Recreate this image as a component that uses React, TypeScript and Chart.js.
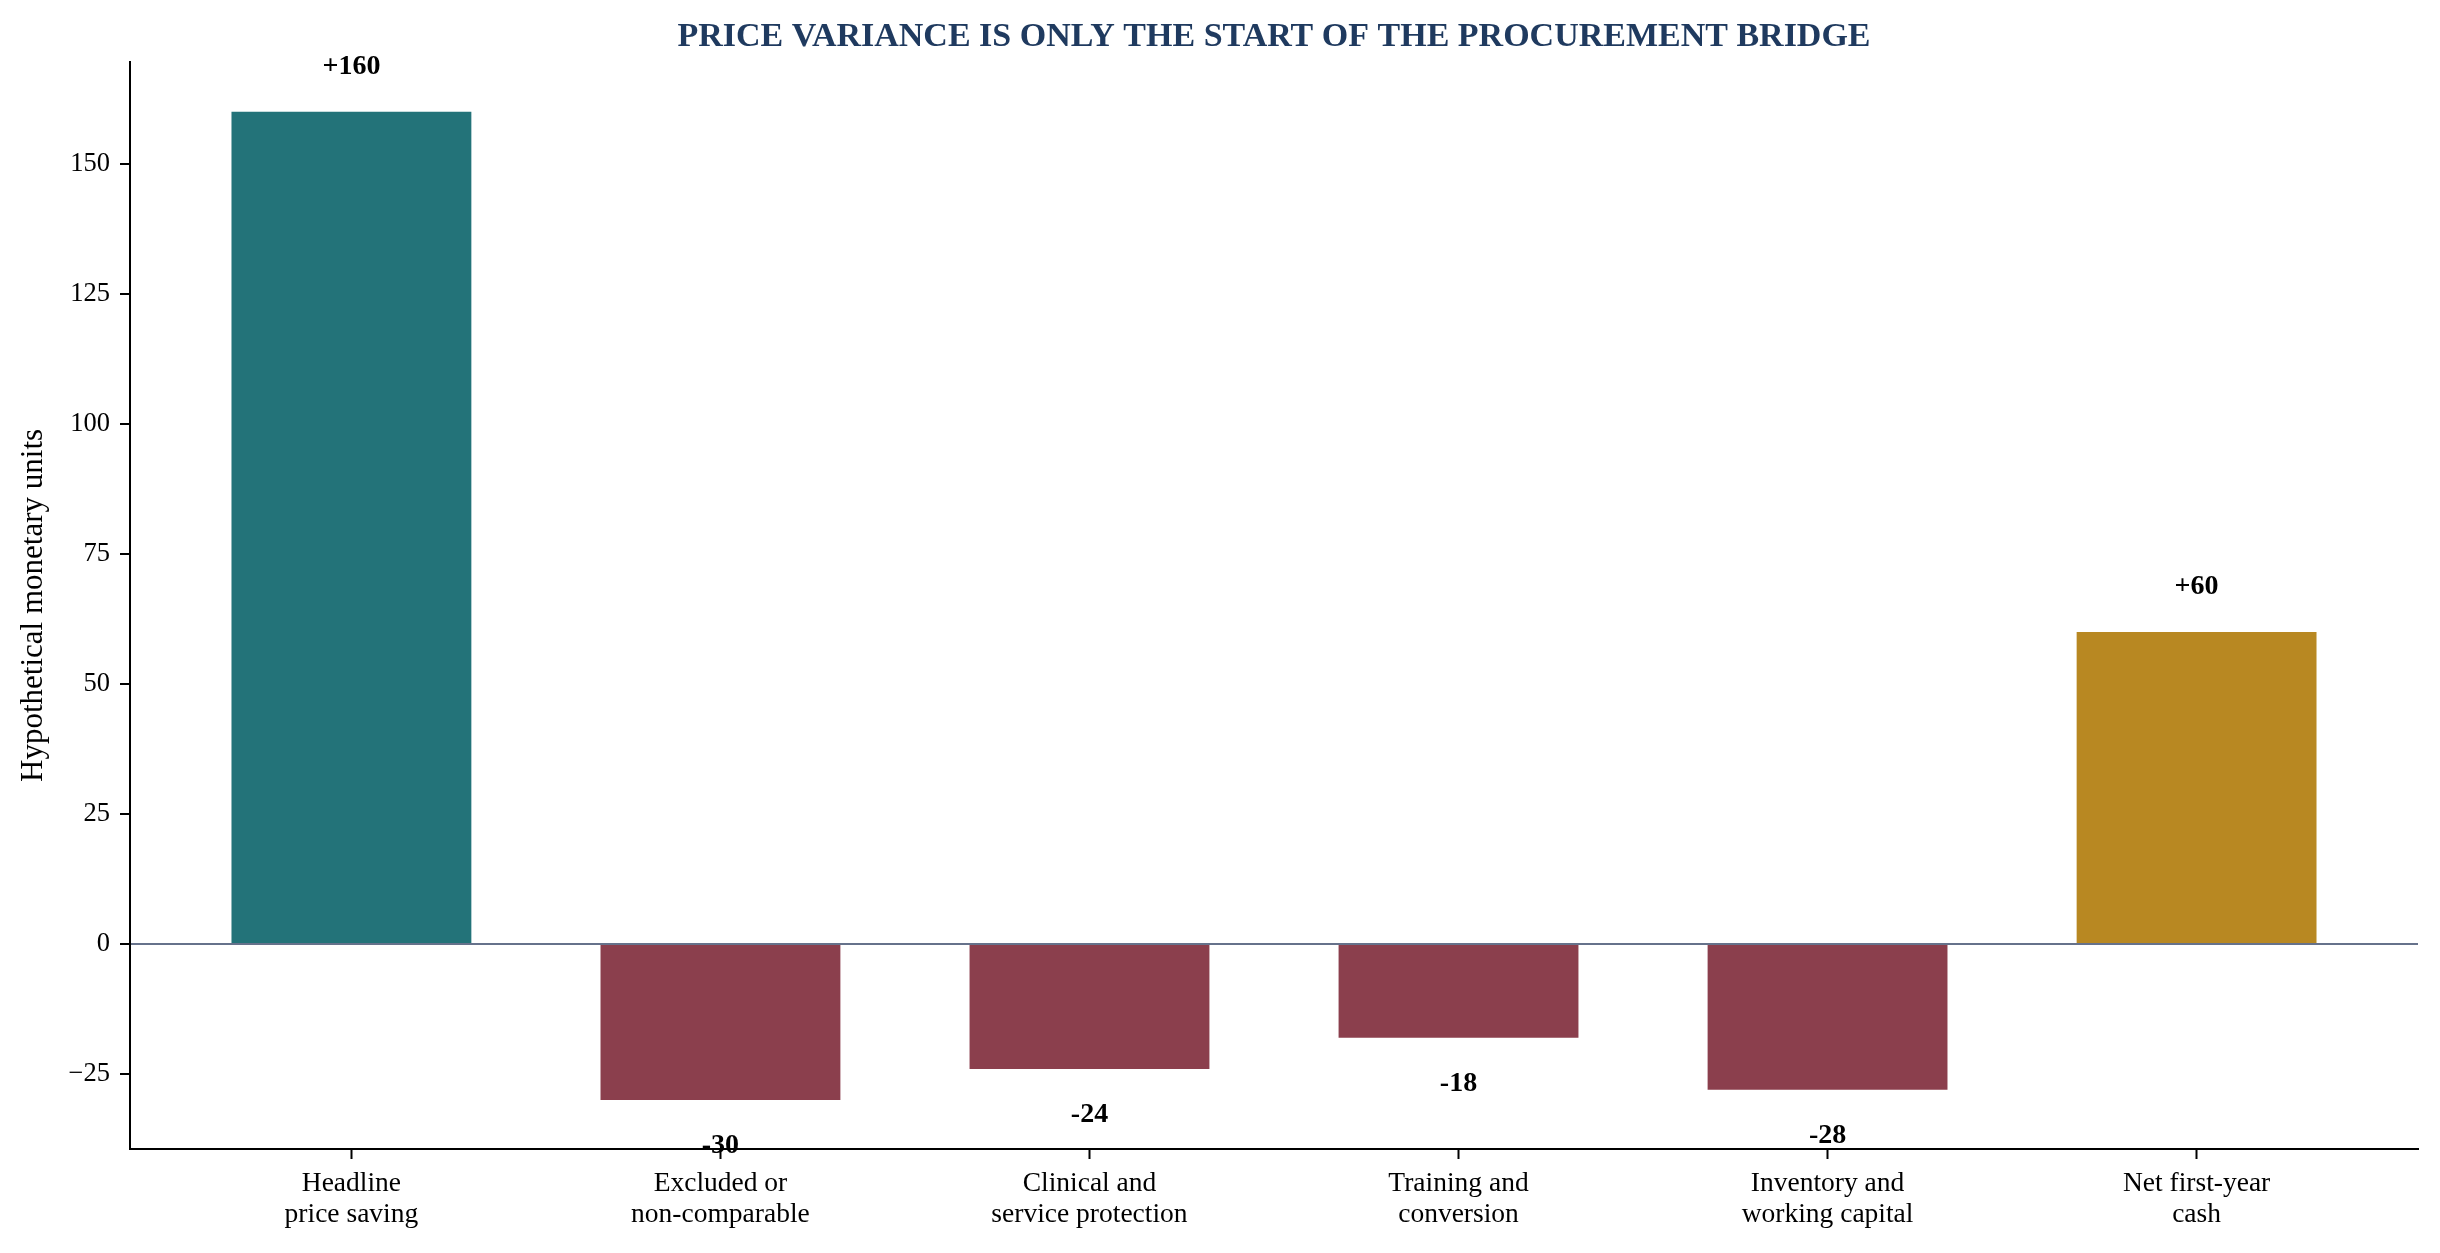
import React, { FC, useEffect, useRef } from "react";
import Chart from "chart.js/auto";

const categories: string[][] = [
  ["Headline", "price saving"],
  ["Excluded or", "non-comparable"],
  ["Clinical and", "service protection"],
  ["Training and", "conversion"],
  ["Inventory and", "working capital"],
  ["Net first-year", "cash"],
];
const values: number[] = [160, -30, -24, -18, -28, 60];
const barColors: string[] = ["#237379", "#8b3f4d", "#8b3f4d", "#8b3f4d", "#8b3f4d", "#b88822"];
const yTicks: number[] = [-25, 0, 25, 50, 75, 100, 125, 150];

const FONT = "'Liberation Serif', 'Times New Roman', serif";

// draws +160 / -30 style labels above or below each bar
const valueLabels = {
  id: "valueLabels",
  afterDatasetsDraw(chart: any) {
    const { ctx } = chart;
    const yScale = chart.scales.y;
    const meta = chart.getDatasetMeta(0);
    ctx.save();
    ctx.font = `bold 28px ${FONT}`;
    ctx.fillStyle = "#000";
    ctx.textAlign = "center";
    ctx.textBaseline = "middle";
    meta.data.forEach((bar: any, i: number) => {
      const v = values[i];
      const label = v > 0 ? `+${v}` : `${v}`;
      const at = v >= 0 ? v + 8.6 : v - 8.8;
      ctx.fillText(label, bar.x, yScale.getPixelForValue(at));
    });
    ctx.restore();
  },
};

const App: FC = () => {
  const canvasRef = useRef<HTMLCanvasElement>(null);

  useEffect(() => {
    if (!canvasRef.current) return;
    const ctx = canvasRef.current.getContext("2d");
    if (!ctx) return;

    const chart = new Chart(ctx, {
      type: "bar",
      data: {
        datasets: [
          {
            data: values.map((v, i) => ({ x: i, y: v })),
            backgroundColor: barColors,
            borderWidth: 0,
            barPercentage: 0.65,
            categoryPercentage: 1,
          },
        ],
      },
      options: {
        animation: false,
        responsive: true,
        maintainAspectRatio: false,
        devicePixelRatio: 1,
        layout: { padding: { left: 0, right: 22, top: 0, bottom: 0 } },
        plugins: {
          legend: { display: false },
          tooltip: { enabled: false },
          title: {
            display: true,
            fullSize: false,
            text: "PRICE VARIANCE IS ONLY THE START OF THE PROCUREMENT BRIDGE",
            color: "#1f3a5f",
            font: { family: FONT, size: 34, weight: "bold", lineHeight: 1.2 },
            padding: { top: 17, bottom: 4 },
          },
        },
        scales: {
          x: {
            type: "linear",
            min: -0.6,
            max: 5.6,
            offset: false,
            afterBuildTicks: (scale: any) => {
              scale.ticks = categories.map((_, i) => ({ value: i }));
            },
            afterFit: (scale: any) => {
              scale.height = 104;
            },
            grid: {
              offset: false,
              drawOnChartArea: false,
              drawTicks: true,
              tickLength: 10,
              tickColor: "#000",
              tickWidth: 2,
            },
            border: { display: true, color: "#000", width: 2 },
            ticks: {
              autoSkip: false,
              maxRotation: 0,
              padding: 9,
              color: "#000",
              font: { family: FONT, size: 27.5, lineHeight: 1.13 },
              callback: (v: any) => categories[Number(v)] ?? "",
            },
          },
          y: {
            min: -39.4,
            max: 169.6,
            afterBuildTicks: (scale: any) => {
              scale.ticks = yTicks.map((v) => ({ value: v }));
            },
            afterFit: (scale: any) => {
              scale.width = 130;
            },
            grid: {
              drawOnChartArea: true,
              drawTicks: true,
              tickLength: 10,
              color: (c: any) => (c.tick && c.tick.value === 0 ? "#66728b" : "rgba(0,0,0,0)"),
              lineWidth: 2,
              tickColor: "#000",
              tickWidth: 2,
            },
            border: { display: true, color: "#000", width: 2 },
            ticks: {
              padding: 10,
              color: "#000",
              font: { family: FONT, size: 26.5 },
              callback: (v: any) => (Number(v) < 0 ? `\u2212${Math.abs(Number(v))}` : `${v}`),
            },
            title: {
              display: true,
              text: "Hypothetical monetary units",
              color: "#000",
              font: { family: FONT, size: 31, lineHeight: 1.2 },
              padding: { top: 15, bottom: 0 },
            },
          },
        },
      },
      plugins: [valueLabels],
    });

    return () => {
      chart.destroy();
    };
  }, []);

  return (
    <div style={{ position: "fixed", left: 0, top: 0, width: "2440px", height: "1253px", background: "#fff" }}>
      <canvas ref={canvasRef}></canvas>
    </div>
  );
};

export default App;
